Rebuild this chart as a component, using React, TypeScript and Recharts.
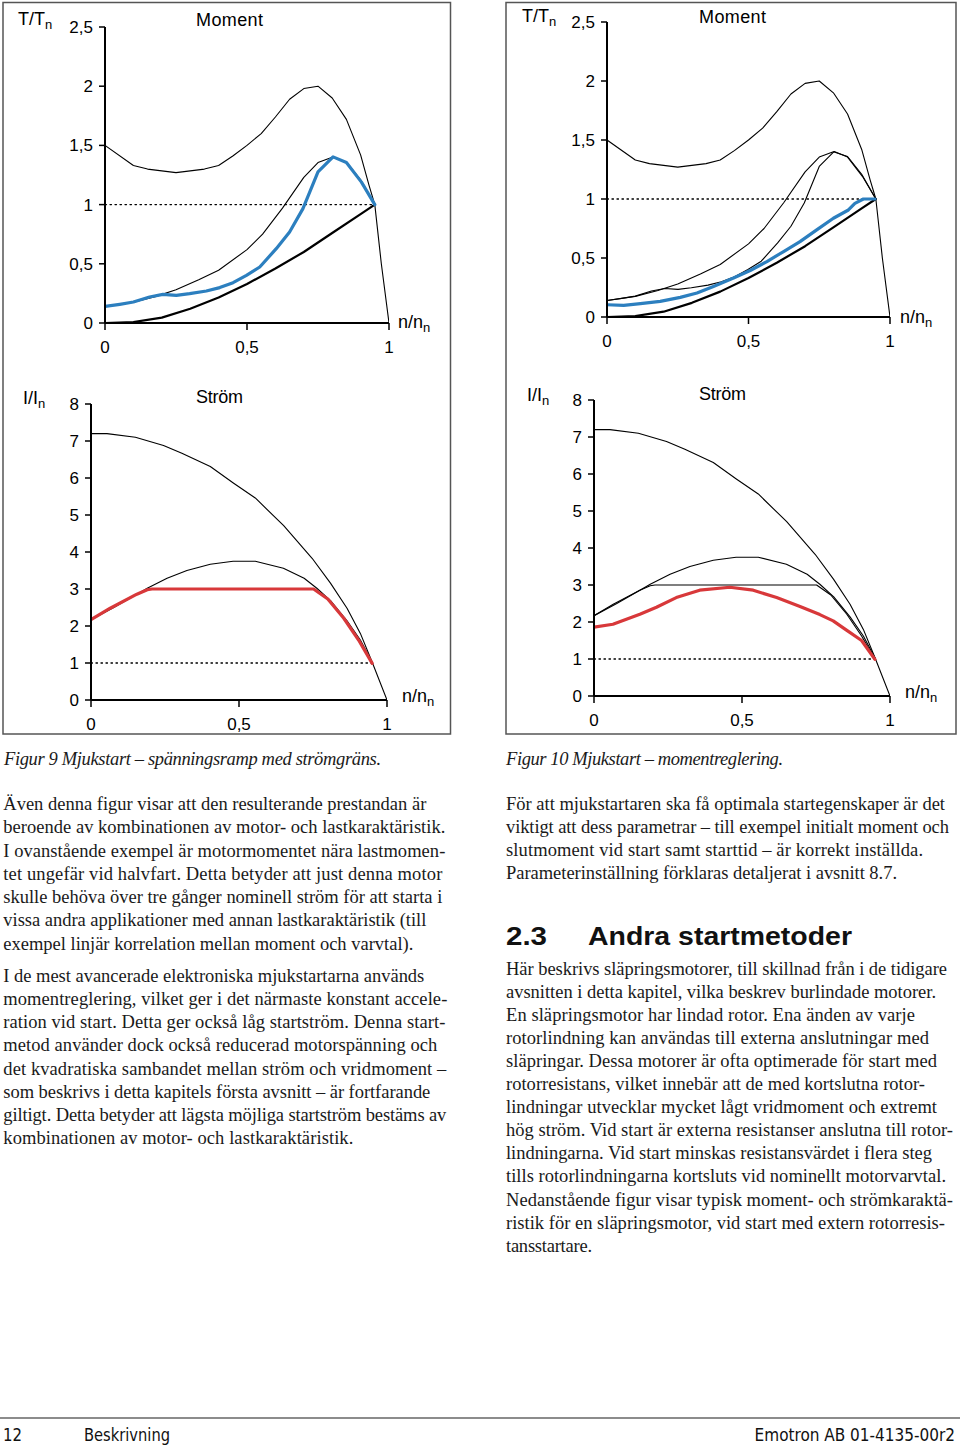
import React from 'react';
import { LineChart, Line, XAxis, YAxis } from 'recharts';

// ---------- data (x = n/nn, y = T/Tn or I/In) ----------
const xTicks = [0, 0.5, 1];
const torqueTicks = [0, 0.5, 1, 1.5, 2, 2.5];
const currentTicks = [0, 1, 2, 3, 4, 5, 6, 7, 8];

const nominalLevel = [[0, 1], [0.95, 1]];

const motorTorque = [
  [0, 1.5], [0.1, 1.33], [0.15, 1.3], [0.25, 1.27], [0.35, 1.3], [0.4, 1.33], [0.45, 1.41],
  [0.5, 1.5], [0.55, 1.6], [0.6, 1.74], [0.65, 1.89], [0.7, 1.98], [0.75, 2.0], [0.8, 1.9],
  [0.85, 1.72], [0.9, 1.42], [0.93, 1.16], [0.95, 1.0], [0.973, 0.5], [1, 0],
];
const reducedTorque = [
  [0, 0.14], [0.1, 0.175], [0.18, 0.225], [0.25, 0.28], [0.33, 0.365], [0.4, 0.445], [0.5, 0.62],
  [0.555, 0.75], [0.625, 0.97], [0.7, 1.23], [0.75, 1.355], [0.8, 1.4], [0.85, 1.36], [0.9, 1.21],
  [0.95, 1.0],
];
const loadTorque = [
  [0, 0], [0.1, 0.008], [0.2, 0.045], [0.3, 0.12], [0.4, 0.215], [0.5, 0.33], [0.6, 0.46],
  [0.7, 0.6], [0.8, 0.76], [0.9, 0.92], [0.95, 1.0],
];
const rampTorque = [
  [0, 0.14], [0.052, 0.158], [0.1, 0.177], [0.157, 0.22], [0.204, 0.242], [0.251, 0.234],
  [0.298, 0.248], [0.357, 0.27], [0.404, 0.299], [0.451, 0.341], [0.498, 0.403], [0.545, 0.473],
  [0.603, 0.628], [0.65, 0.769], [0.697, 0.966], [0.75, 1.276], [0.803, 1.403], [0.85, 1.355],
  [0.903, 1.19], [0.95, 1.0],
];
const controlTorque = [
  [0, 0.104], [0.059, 0.099], [0.118, 0.113], [0.188, 0.132], [0.259, 0.166], [0.318, 0.203],
  [0.376, 0.259], [0.447, 0.33], [0.506, 0.394], [0.565, 0.47], [0.624, 0.555], [0.682, 0.639],
  [0.741, 0.738], [0.8, 0.837], [0.853, 0.907], [0.876, 0.963], [0.906, 1.0], [0.947, 1.0],
];

const motorCurrent = [
  [0, 7.2], [0.054, 7.2], [0.15, 7.1], [0.245, 6.88], [0.307, 6.67], [0.403, 6.31], [0.482, 5.86],
  [0.555, 5.46], [0.651, 4.71], [0.747, 3.83], [0.809, 3.16], [0.865, 2.48], [0.91, 1.8],
  [0.949, 1.04], [1, 0],
];
const reducedCurrent = [
  [0, 2.17], [0.077, 2.5], [0.155, 2.86], [0.19, 3.02], [0.257, 3.29], [0.324, 3.5], [0.403, 3.67],
  [0.48, 3.75], [0.555, 3.75], [0.65, 3.56], [0.72, 3.29], [0.763, 3.02], [0.81, 2.68],
  [0.865, 2.14], [0.91, 1.62], [0.95, 1.02],
];
const limitCurrent = [
  [0, 2.17], [0.065, 2.48], [0.155, 2.86], [0.19, 2.98], [0.206, 3.0], [0.752, 3.0], [0.8, 2.73],
  [0.854, 2.21], [0.904, 1.62], [0.95, 0.99],
];
const controlCurrent = [
  [0, 1.86], [0.064, 1.94], [0.155, 2.21], [0.211, 2.4], [0.278, 2.66], [0.357, 2.86],
  [0.459, 2.94], [0.538, 2.86], [0.617, 2.66], [0.696, 2.42], [0.763, 2.2], [0.808, 2.03],
  [0.853, 1.78], [0.904, 1.5], [0.949, 0.99],
];

// ---------- page text ----------
const leftCaption = 'Figur 9  Mjukstart – spänningsramp med strömgräns.';
const rightCaption = 'Figur 10 Mjukstart – momentreglering.';
const leftPara1 = [
  ['Även denna figur visar att den resulterande prestandan är', 423],
  ['beroende av kombinationen av motor- och lastkaraktäristik.', 442],
  ['I ovanstående exempel är motormomentet nära lastmomen-', 442],
  ['tet ungefär vid halvfart. Detta betyder att just denna motor', 439],
  ['skulle behöva över tre gånger nominell ström för att starta i', 439],
  ['vissa andra applikationer med annan lastkaraktäristik (till', 423],
  ['exempel linjär korrelation mellan moment och varvtal).', 410],
];
const leftPara2 = [
  ['I de mest avancerade elektroniska mjukstartarna används', 421],
  ['momentreglering, vilket ger i det närmaste konstant accele-', 444],
  ['ration vid start. Detta ger också låg startström. Denna start-', 442],
  ['metod använder dock också reducerad motorspänning och', 434],
  ['det kvadratiska sambandet mellan ström och vridmoment –', 443],
  ['som beskrivs i detta kapitels första avsnitt – är fortfarande', 427],
  ['giltigt. Detta betyder att lägsta möjliga startström bestäms av', 443],
  ['kombinationen av motor- och lastkaraktäristik.', 350],
];
const rightPara1 = [
  ['För att mjukstartaren ska få optimala startegenskaper är det', 439],
  ['viktigt att dess parametrar – till exempel initialt moment och', 443],
  ['slutmoment vid start samt starttid – är korrekt inställda.', 417],
  ['Parameterinställning förklaras detaljerat i avsnitt 8.7.', 391],
];
const rightPara2 = [
  ['Här beskrivs släpringsmotorer, till skillnad från i de tidigare', 441],
  ['avsnitten i detta kapitel, vilka beskrev burlindade motorer.', 430],
  ['En släpringsmotor har lindad rotor. Ena änden av varje', 409],
  ['rotorlindning kan användas till externa anslutningar med', 423],
  ['släpringar. Dessa motorer är ofta optimerade för start med', 431],
  ['rotorresistans, vilket innebär att de med kortslutna rotor-', 419],
  ['lindningar utvecklar mycket lågt vridmoment och extremt', 431],
  ['hög ström. Vid start är externa resistanser anslutna till rotor-', 447],
  ['lindningarna. Vid start minskas resistansvärdet i flera steg', 426],
  ['tills rotorlindningarna kortsluts vid nominellt motorvarvtal.', 440],
  ['Nedanstående figur visar typisk moment- och strömkaraktä-', 447],
  ['ristik för en släpringsmotor, vid start med extern rotorresis-', 439],
  ['tansstartare.', 86],
];

// ---------- styling ----------
const SANS = "'Liberation Sans', Arial, sans-serif";
const SERIF = "'Liberation Serif', 'Times New Roman', serif";
const NARROW = "'Liberation Sans Narrow', 'DejaVu Sans Condensed', 'Liberation Sans', sans-serif";
const BLUE = '#2c7fbf';
const RED = '#d8383a';

const toPoints = (arr: number[][]) => arr.map(([x, y]) => ({ x, y }));
const fmt = (v: number) => String(v).replace('.', ',');

type Series = { data: number[][]; stroke: string; width: number; dash?: string };

const thin = (data: number[][]): Series => ({ data, stroke: '#000', width: 1.1 });
const dotted: Series = { data: nominalLevel, stroke: '#000', width: 1.3, dash: '1.5 3.5' };

function Panel(props: {
  box: { left: number; top: number; width: number; height: number };
  plot: { x0: number; x1: number; yTop: number; yBot: number };
  yDomain: [number, number];
  yTicks: number[];
  series: Series[];
}) {
  const { box, plot, yDomain, yTicks, series } = props;
  const margin = { top: plot.yTop - box.top, right: box.left + box.width - plot.x1, bottom: 0, left: 0 };
  const tickStyle = { fill: '#000', fontSize: 17, fontFamily: SANS };
  return (
    <div style={{ position: 'absolute', left: box.left, top: box.top, width: box.width, height: box.height }}>
      <LineChart width={box.width} height={box.height} margin={margin}>
        <XAxis
          type="number"
          dataKey="x"
          domain={[0, 1]}
          ticks={xTicks}
          interval={0}
          allowDataOverflow
          tickFormatter={fmt}
          height={box.top + box.height - plot.yBot}
          axisLine={{ stroke: '#000', strokeWidth: 2 }}
          tickLine={{ stroke: '#000', strokeWidth: 1.5 }}
          tickSize={7}
          tickMargin={11}
          tick={tickStyle}
        />
        <YAxis
          type="number"
          domain={yDomain}
          ticks={yTicks}
          interval={0}
          allowDataOverflow
          tickFormatter={fmt}
          width={plot.x0 - box.left}
          axisLine={{ stroke: '#000', strokeWidth: 2 }}
          tickLine={{ stroke: '#000', strokeWidth: 1.5 }}
          tickSize={6}
          tickMargin={6}
          tick={tickStyle}
        />
        {series.map((s, i) => (
          <Line
            key={i}
            data={toPoints(s.data)}
            dataKey="y"
            type="linear"
            stroke={s.stroke}
            strokeWidth={s.width}
            strokeDasharray={s.dash}
            strokeLinejoin="round"
            strokeLinecap="round"
            dot={false}
            activeDot={false}
            isAnimationActive={false}
          />
        ))}
      </LineChart>
    </div>
  );
}

function AxisLabel({ x, y, main, sub }: { x: number; y: number; main: string; sub: string }) {
  return (
    <text x={x} y={y} fontFamily={SANS} fontSize={18} fill="#000">
      {main}
      <tspan fontSize={13} dy={3.5}>{sub}</tspan>
    </text>
  );
}

function Lines({ x, y0, step, lines }: { x: number; y0: number; step: number; lines: (string | number)[][] }) {
  return (
    <>
      {lines.map(([t, w], i) => (
        <text
          key={i}
          x={x}
          y={y0 + i * step}
          fontFamily={SERIF}
          fontSize={18.5}
          fill="#1a1a1a"
          textLength={w as number}
          lengthAdjust="spacing"
        >
          {t as string}
        </text>
      ))}
    </>
  );
}

export default function App() {
  return (
    <div style={{ position: 'absolute', left: 0, top: 0, width: 960, height: 1446, background: '#fff', overflow: 'hidden' }}>
      <Panel
        box={{ left: 0, top: 0, width: 450, height: 370 }}
        plot={{ x0: 105, x1: 389, yTop: 27, yBot: 323 }}
        yDomain={[0, 2.5]}
        yTicks={torqueTicks}
        series={[
          dotted,
          thin(motorTorque),
          thin(reducedTorque),
          { data: loadTorque, stroke: '#000', width: 2.2 },
          { data: rampTorque, stroke: BLUE, width: 3.2 },
        ]}
      />
      <Panel
        box={{ left: 500, top: 0, width: 460, height: 370 }}
        plot={{ x0: 607, x1: 890, yTop: 22, yBot: 317 }}
        yDomain={[0, 2.5]}
        yTicks={torqueTicks}
        series={[
          dotted,
          thin(motorTorque),
          thin(reducedTorque),
          thin(rampTorque),
          { data: loadTorque, stroke: '#000', width: 2.2 },
          { data: controlTorque, stroke: BLUE, width: 3.2 },
        ]}
      />
      <Panel
        box={{ left: 0, top: 375, width: 450, height: 360 }}
        plot={{ x0: 91, x1: 387, yTop: 404, yBot: 700 }}
        yDomain={[0, 8]}
        yTicks={currentTicks}
        series={[
          dotted,
          thin(motorCurrent),
          thin(reducedCurrent),
          { data: limitCurrent, stroke: RED, width: 3.2 },
        ]}
      />
      <Panel
        box={{ left: 500, top: 375, width: 460, height: 360 }}
        plot={{ x0: 594, x1: 890, yTop: 400, yBot: 696 }}
        yDomain={[0, 8]}
        yTicks={currentTicks}
        series={[
          dotted,
          thin(motorCurrent),
          thin(reducedCurrent),
          thin(limitCurrent),
          { data: controlCurrent, stroke: RED, width: 3.2 },
        ]}
      />

      <svg
        width={960}
        height={1446}
        style={{ position: 'absolute', left: 0, top: 0, pointerEvents: 'none' }}
      >
        {/* frames */}
        <rect x={3} y={2.5} width={447.5} height={731.5} fill="none" stroke="#555" strokeWidth={1.5} />
        <rect x={506} y={2.5} width={450} height={731.5} fill="none" stroke="#555" strokeWidth={1.5} />

        {/* chart labels */}
        <AxisLabel x={18} y={25} main="T/T" sub="n" />
        <text x={196} y={25.5} fontFamily={SANS} fontSize={18} textLength={67} lengthAdjust="spacing">Moment</text>
        <AxisLabel x={398} y={328} main="n/n" sub="n" />

        <AxisLabel x={522} y={22} main="T/T" sub="n" />
        <text x={699} y={22.5} fontFamily={SANS} fontSize={18} textLength={67} lengthAdjust="spacing">Moment</text>
        <AxisLabel x={900} y={323} main="n/n" sub="n" />

        <AxisLabel x={23} y={404} main="I/I" sub="n" />
        <text x={196} y={403} fontFamily={SANS} fontSize={18} textLength={47} lengthAdjust="spacing">Ström</text>
        <AxisLabel x={402} y={702} main="n/n" sub="n" />

        <AxisLabel x={527} y={401} main="I/I" sub="n" />
        <text x={699} y={400} fontFamily={SANS} fontSize={18} textLength={47} lengthAdjust="spacing">Ström</text>
        <AxisLabel x={905} y={698} main="n/n" sub="n" />

        {/* captions */}
        <text x={4} y={765} fontFamily={SERIF} fontStyle="italic" fontSize={18.5} fill="#1a1a1a" textLength={377} lengthAdjust="spacing">{leftCaption}</text>
        <text x={506} y={765} fontFamily={SERIF} fontStyle="italic" fontSize={18.5} fill="#1a1a1a" textLength={277} lengthAdjust="spacing">{rightCaption}</text>

        {/* body text */}
        <Lines x={3.3} y0={810} step={23.25} lines={leftPara1} />
        <Lines x={3.3} y0={981.5} step={23.25} lines={leftPara2} />
        <Lines x={506} y0={810} step={23.1} lines={rightPara1} />
        <text x={506} y={945} fontFamily={SANS} fontWeight="bold" fontSize={26} fill="#111" textLength={41} lengthAdjust="spacingAndGlyphs">2.3</text>
        <text x={588} y={945} fontFamily={SANS} fontWeight="bold" fontSize={26} fill="#111" textLength={264} lengthAdjust="spacingAndGlyphs">Andra startmetoder</text>
        <Lines x={506} y0={974.5} step={23.1} lines={rightPara2} />

        {/* footer */}
        <line x1={0} y1={1418} x2={960} y2={1418} stroke="#666" strokeWidth={1.3} />
        <text x={3} y={1441} fontFamily={NARROW} fontSize={17} fill="#111" textLength={19} lengthAdjust="spacingAndGlyphs">12</text>
        <text x={84} y={1441} fontFamily={NARROW} fontSize={17} fill="#111" textLength={86} lengthAdjust="spacingAndGlyphs">Beskrivning</text>
        <text x={955} y={1441} textAnchor="end" fontFamily={NARROW} fontSize={17} fill="#111">Emotron AB 01-4135-00r2</text>
      </svg>
    </div>
  );
}
